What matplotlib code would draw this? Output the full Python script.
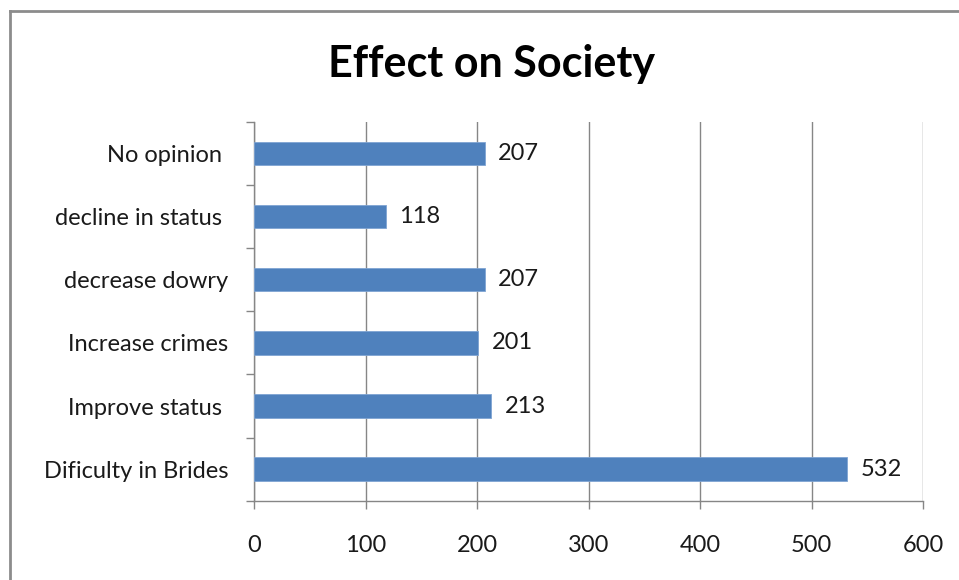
import matplotlib
matplotlib.use("Agg")
import matplotlib.pyplot as plt
from matplotlib.lines import Line2D
import numpy as np

plt.rcParams["font.family"] = ["Lato", "DejaVu Sans"]

categories = [
    "Dificulty in Brides",
    "Improve status ",
    "Increase crimes",
    "decrease dowry",
    "decline in status ",
    "No opinion ",
]
counts = [532, 213, 201, 207, 118, 207]
x_ticks = [0, 100, 200, 300, 400, 500, 600]

BAR_COLOR = "#4F81BD"
LINE_COLOR = "#868686"
TEXT_COLOR = "#1a1a1a"
LABEL_SIZE = 17

fig = plt.figure(figsize=(9.59, 5.80), dpi=100)
ax = fig.add_axes([254 / 959, 1 - 500.7 / 580, 669 / 959, (500.7 - 122) / 580])

y = np.arange(len(categories))
ax.barh(y, counts, height=0.37, color=BAR_COLOR, edgecolor="#7fa4d3",
        linewidth=0.6, zorder=3)

for yi, v in zip(y, counts):
    ax.text(v + 12, yi, str(v), va="center", ha="left", fontsize=LABEL_SIZE,
            color=TEXT_COLOR)

ax.set_xlim(0, 600)
ax.set_ylim(-0.5, len(categories) - 0.5)
ax.set_xticks(x_ticks)
ax.set_xticklabels([str(t) for t in x_ticks], fontsize=LABEL_SIZE, color=TEXT_COLOR)
ax.set_yticks(y)
ax.set_yticklabels(categories, fontsize=LABEL_SIZE, color=TEXT_COLOR)
ax.set_yticks(np.arange(-0.5, len(categories)), minor=True)

ax.tick_params(axis="y", which="major", length=0, pad=18.5)
ax.tick_params(axis="y", which="minor", length=6, width=1, color=LINE_COLOR,
               direction="out")
ax.tick_params(axis="x", which="major", length=6, width=1, color=LINE_COLOR,
               direction="out", pad=19)

ax.grid(axis="x", color=LINE_COLOR, linewidth=1, zorder=0)
for side in ("top", "right"):
    ax.spines[side].set_visible(False)
for side in ("left", "bottom"):
    ax.spines[side].set_color(LINE_COLOR)
    ax.spines[side].set_linewidth(1)

fig.text(491 / 959, 1 - 64 / 580, "Effect on Society", ha="center",
         va="center", fontsize=31, fontweight="bold", color="black")

# outer chart frame, open on the right and bottom
fig.add_artist(Line2D([10 / 959, 10 / 959], [0, 1 - 11 / 580],
                      color="#8c8c8c", linewidth=2))
fig.add_artist(Line2D([10 / 959, 1], [1 - 11 / 580, 1 - 11 / 580],
                      color="#8c8c8c", linewidth=2))

fig.savefig("out.png", dpi=100)
